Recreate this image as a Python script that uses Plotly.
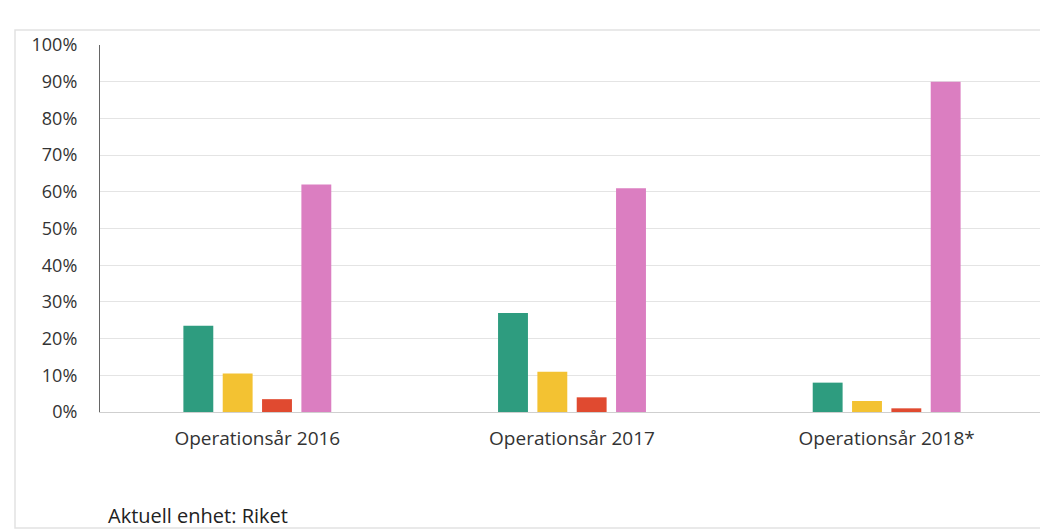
import plotly.graph_objects as go

categories = ["Operationsår 2016", "Operationsår 2017", "Operationsår 2018*"]
series_names = ["Serie 1", "Serie 2", "Serie 3", "Serie 4"]
values_s1 = [0.235, 0.27, 0.08]
values_s2 = [0.105, 0.11, 0.03]
values_s3 = [0.035, 0.04, 0.01]
values_s4 = [0.62, 0.61, 0.90]
colors = ["#2E9C7F", "#F3C232", "#E04A30", "#DB7EC1"]
y_ticks = [0, 0.1, 0.2, 0.3, 0.4, 0.5, 0.6, 0.7, 0.8, 0.9, 1.0]
y_tick_labels = ["0%", "10%", "20%", "30%", "40%", "50%", "60%", "70%", "80%", "90%", "100%"]
footer_text = "Aktuell enhet: Riket"

W, H = 1048, 531
OFF = 8  # page body margin offset
ml, mr, mt, mb = 92, 12, 37, 127

fig = go.Figure()
for name, vals, col in zip(series_names, [values_s1, values_s2, values_s3, values_s4], colors):
    fig.add_trace(go.Bar(x=categories, y=vals, name=name, marker_color=col,
                         marker_line_width=0, showlegend=False))

pw = W - ml - mr
ph = H - mt - mb

def px_x(p):
    return (p - OFF - ml) / pw

def px_y(p):
    return (H - mb - (p - OFF)) / ph

fig.add_shape(type="rect", xref="paper", yref="paper",
              x0=px_x(15), x1=px_x(1070), y0=px_y(528), y1=px_y(30),
              line=dict(color="#e2e2e2", width=1.5), fillcolor="rgba(0,0,0,0)", layer="below")

fig.add_annotation(text=footer_text, xref="paper", yref="paper",
                   x=px_x(106), y=px_y(515), xanchor="left", yanchor="middle",
                   showarrow=False, font=dict(size=20, color="#222", family="Open Sans"))

fig.update_layout(
    width=W, height=H,
    margin=dict(l=ml, r=mr, t=mt, b=mb),
    paper_bgcolor="white", plot_bgcolor="white",
    barmode="group", bargap=0.5, bargroupgap=0.24,
    font=dict(family="Open Sans", size=18, color="#333"),
    xaxis=dict(showgrid=False, showline=True, linecolor="#cfcfcf", linewidth=1,
               ticks="", tickfont=dict(size=19, color="#333"), ticklabelstandoff=9),
    yaxis=dict(range=[0, 1.0], tickvals=y_ticks, ticktext=y_tick_labels,
               showgrid=True, gridcolor="#e4e4e4", gridwidth=1,
               showline=True, linecolor="#666", linewidth=1.2,
               zeroline=False, ticks="", tickfont=dict(size=18, color="#333"),
               ticklabelstandoff=18),
)

fig.write_html("out.html")
